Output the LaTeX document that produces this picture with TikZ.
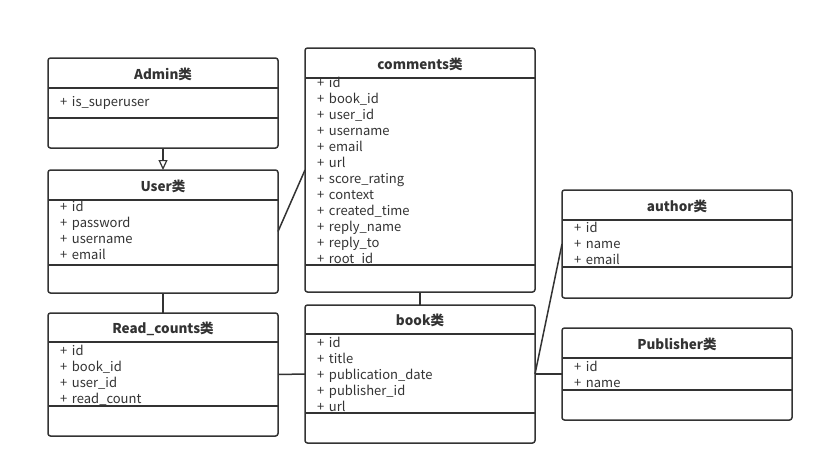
\documentclass[tikz,border=0pt]{standalone}
\usepackage{fontspec}
\setmainfont{Noto Sans CJK SC}
\usetikzlibrary{arrows.meta,calc}
\definecolor{ink}{HTML}{333333}
\tikzset{
 boxline/.style={draw=ink, line width=1.5pt},
 classbox/.style={boxline, rounded corners=2.5pt, fill=white, anchor=north west, inner sep=0pt, outer sep=0pt},
 titletext/.style={font=\fontsize{13.5}{15}\selectfont\bfseries, text=ink, inner sep=0pt},
 attrtext/.style={font=\fontsize{13}{14}\selectfont, text=ink, anchor=west, inner sep=0pt, text height=9pt, text depth=3pt},
 link/.style={draw=ink, line width=1.5pt},
 inherit/.style={link, -{Triangle[open, length=10pt, width=9pt, line width=1.2pt]}}
}
\newcommand\classbox[8]{%
 \node[classbox, minimum width={#3-#2}, minimum height={#7-#4}] (#1) at (#2,#4) {};
 \draw[boxline] (#2,#5) -- (#3,#5);
 \draw[boxline] (#2,#6) -- (#3,#6);
 \node[titletext] (#1-title) at ({(#2+#3)/2},{(#4+#5)/2+1}) {#8};
}
\newcommand\attrs[4]{%
 \foreach \a [count=\i] in {#4} {\node[attrtext] (#1-a\i) at (#2,{#3+2+(\i-1)*16}) {+\hspace{0.35em}\a};}
}
\begin{document}
\begin{tikzpicture}[x=1pt,y=-1pt]
\fill[white] (0,0) rectangle (823,475);
\useasboundingbox (0,0) rectangle (823,475);
% classes
\classbox{admin}{48}{278}{58}{88}{118}{148}{Admin类}
\attrs{admin}{60}{101}{is\_superuser}
\classbox{user}{48}{278}{170}{200}{265}{293}{User类}
\attrs{user}{60}{206}{id,password,username,email}
\classbox{read}{48}{278}{313}{342}{406}{436}{Read\_counts类}
\attrs{read}{60}{350}{id,book\_id,user\_id,read\_count}
\classbox{comments}{305}{535}{48}{78}{265}{292}{comments类}
\attrs{comments}{317}{82}{id,book\_id,user\_id,username,email,url,score\_rating,context,created\_time,reply\_name,reply\_to,root\_id}
\classbox{book}{305}{535}{305}{334}{413}{443}{book类}
\attrs{book}{317}{342}{id,title,publication\_date,publisher\_id,url}
\classbox{author}{562}{792}{190}{220}{267}{298}{author类}
\attrs{author}{574}{227}{id,name,email}
\classbox{publisher}{562}{792}{328}{358}{390}{420}{Publisher类}
\attrs{publisher}{574}{366}{id,name}
% connectors
\draw[inherit] (admin.south) -- (user.north);
\draw[link] (user.east) -- (comments.west);
\draw[link] (user.south) -- (read.north);
\draw[link] (comments.south) -- (book.north);
\draw[link] (read.east) -- (book.west);
\draw[link] (book.east) -- (author.west);
\draw[link] (book.east) -- (publisher.west);
\end{tikzpicture}
\end{document}
